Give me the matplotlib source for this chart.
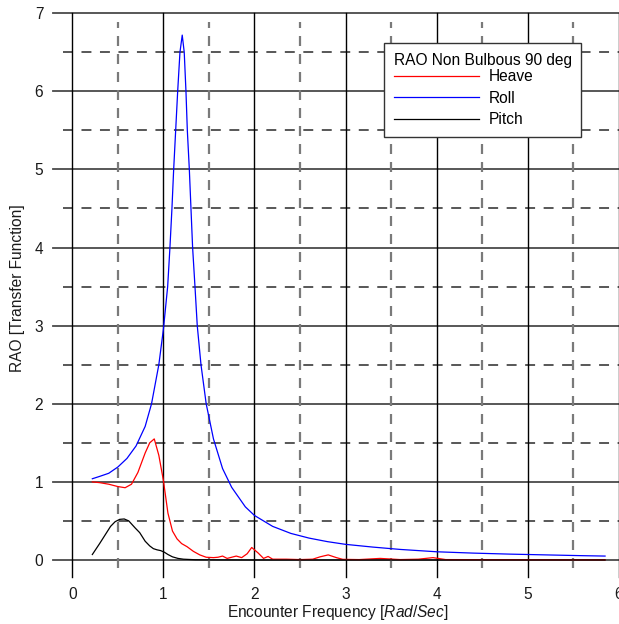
import matplotlib
matplotlib.use("Agg")
import matplotlib.pyplot as plt

plt.rcParams['font.family'] = ['Liberation Sans', 'DejaVu Sans']
plt.rcParams['mathtext.fontset'] = 'custom'
plt.rcParams['mathtext.rm'] = 'Liberation Sans'
plt.rcParams['mathtext.it'] = 'Liberation Sans:italic'

# ---------------- data ----------------
roll_x = [0.22, 0.30, 0.40, 0.50, 0.60, 0.70, 0.80, 0.87, 0.95, 1.00,
          1.047, 1.072, 1.094, 1.113, 1.135, 1.157, 1.182, 1.207, 1.229, 1.248,
          1.263, 1.285, 1.303, 1.321, 1.347, 1.372, 1.413, 1.47, 1.55, 1.65,
          1.75, 1.90, 2.0, 2.2, 2.4, 2.6, 2.8, 3.0, 3.3, 3.6,
          4.0, 4.4, 4.8, 5.2, 5.6, 5.85]
roll_y = [1.04, 1.07, 1.11, 1.19, 1.30, 1.46, 1.71, 2.0, 2.5, 2.95,
          3.5, 4.0, 4.5, 5.0, 5.5, 6.0, 6.5, 6.72, 6.5, 6.0,
          5.5, 5.0, 4.5, 4.0, 3.5, 3.0, 2.5, 2.0, 1.55, 1.17,
          0.93, 0.68, 0.57, 0.43, 0.34, 0.28, 0.235, 0.20, 0.165, 0.135,
          0.105, 0.088, 0.075, 0.065, 0.055, 0.05]

heave_x = [0.22, 0.30, 0.40, 0.50, 0.58, 0.65, 0.72, 0.80, 0.85, 0.90,
           0.95, 1.00, 1.05, 1.10, 1.15, 1.20, 1.26, 1.33, 1.40, 1.47,
           1.55, 1.60, 1.65, 1.70, 1.75, 1.80, 1.86, 1.92, 1.97, 2.04,
           2.10, 2.15, 2.20, 2.35, 2.50, 2.64, 2.72, 2.81, 2.90, 2.97,
           3.15, 3.38, 3.60, 3.80, 3.96, 4.10, 4.5, 5.0, 5.5, 5.85]
heave_y = [1.00, 0.99, 0.97, 0.94, 0.925, 0.97, 1.12, 1.37, 1.50, 1.55,
           1.34, 1.02, 0.60, 0.37, 0.27, 0.21, 0.17, 0.11, 0.065, 0.035,
           0.03, 0.035, 0.05, 0.02, 0.035, 0.05, 0.03, 0.08, 0.16, 0.09,
           0.02, 0.045, 0.01, 0.01, 0.005, 0.01, 0.04, 0.065, 0.03, 0.008,
           0.005, 0.02, 0.005, 0.01, 0.03, 0.005, 0.004, 0.003, 0.002, 0.002]

pitch_x = [0.22, 0.30, 0.36, 0.42, 0.47, 0.52, 0.57, 0.62, 0.69, 0.74,
           0.80, 0.85, 0.89, 0.93, 0.97, 1.01, 1.05, 1.10, 1.16, 1.22,
           1.35, 1.6, 2.0, 3.0, 4.0, 5.0, 5.85]
pitch_y = [0.07, 0.21, 0.32, 0.43, 0.49, 0.52, 0.525, 0.50, 0.41, 0.35,
           0.24, 0.18, 0.145, 0.13, 0.12, 0.10, 0.07, 0.04, 0.02, 0.01,
           0.003, 0.001, 0.0, 0.0, 0.0, 0.0, 0.0]

x_ticks = [0, 1, 2, 3, 4, 5, 6]
y_ticks = [0, 1, 2, 3, 4, 5, 6, 7]
x_half = [0.5, 1.5, 2.5, 3.5, 4.5, 5.5]
y_half = [0.5, 1.5, 2.5, 3.5, 4.5, 5.5, 6.5]

legend_title = "RAO Non Bulbous 90 deg"
series_names = ["Heave", "Roll", "Pitch"]
series_colors = ["#ff0000", "#0000ff", "#000000"]

# ---------------- figure ----------------
W, H = 619, 624
fig = plt.figure(figsize=(W / 100, H / 100), dpi=100)
ax_l, ax_r, ax_t, ax_b = 53, 619, 13, 577
ax = fig.add_axes([ax_l / W, 1 - ax_b / H, (ax_r - ax_l) / W, (ax_b - ax_t) / H])
ax.set_xlim(-0.212, 6.003)
ax.set_ylim(-0.218, 7.003)
for s in ax.spines.values():
    s.set_visible(False)

FS = 11.2
ax.set_xticks(x_ticks)
ax.set_yticks(y_ticks)
ax.set_xticklabels([str(v) for v in x_ticks], fontsize=FS)
ax.set_yticklabels([str(v) for v in y_ticks], fontsize=FS)
ax.tick_params(axis='x', length=0, pad=7.5, colors='#1a1a1a')
ax.tick_params(axis='y', length=0, pad=7, colors='#1a1a1a')

# grid lines
dash_start = (63 - ax_l) / (ax_r - ax_l)
for v in y_ticks:
    ax.axhline(v, color='#4a4a4a', lw=1.3, zorder=1, clip_on=False)
for v in y_half:
    ax.axhline(v, xmin=dash_start, xmax=1, color='#2a2a2a', lw=1.1,
               linestyle=(0, (6.5, 5.6)), zorder=1)
for v in x_ticks:
    ax.axvline(v, color='black', lw=1.0, zorder=1, clip_on=False)
vd_lo = (ax_b - 568) / (ax_b - ax_t)
vd_hi = (ax_b - 22) / (ax_b - ax_t)
for v in x_half:
    ax.axvline(v, ymin=vd_lo, ymax=vd_hi, color='#7a7a7a', lw=1.6,
               linestyle=(0, (4.5, 3.6)), zorder=1)

# data
lh, = ax.plot(heave_x, heave_y, color=series_colors[0], lw=0.9, zorder=3)
lr, = ax.plot(roll_x, roll_y, color=series_colors[1], lw=0.9, zorder=3)
lp, = ax.plot(pitch_x, pitch_y, color=series_colors[2], lw=0.9, zorder=3)

leg = ax.legend([lh, lr, lp], series_names, title=legend_title,
                loc='upper left', bbox_to_anchor=(384 / W, 1 - 43 / H),
                bbox_transform=fig.transFigure, borderaxespad=0,
                fontsize=FS, title_fontsize=FS, frameon=True, fancybox=False,
                handlelength=5.5, handletextpad=0.62, labelspacing=0.42,
                borderpad=0.62)
leg._legend_box.align = "left"
leg._legend_box.sep = 1.0
leg.get_frame().set_edgecolor('#333333')
leg.get_frame().set_linewidth(1.0)
leg.get_frame().set_alpha(1)
leg.set_zorder(5)

fig.text(337.5 / W, 1 - 613 / H, "Encounter Frequency [$\\mathit{Rad/Sec}$]",
         ha='center', va='center', fontsize=FS, color='#1a1a1a')
fig.text(18 / W, 1 - 288 / H, "RAO [Transfer Function]", rotation=90,
         ha='center', va='center', fontsize=FS, color='#1a1a1a')

fig.savefig("out.png", dpi=100)
